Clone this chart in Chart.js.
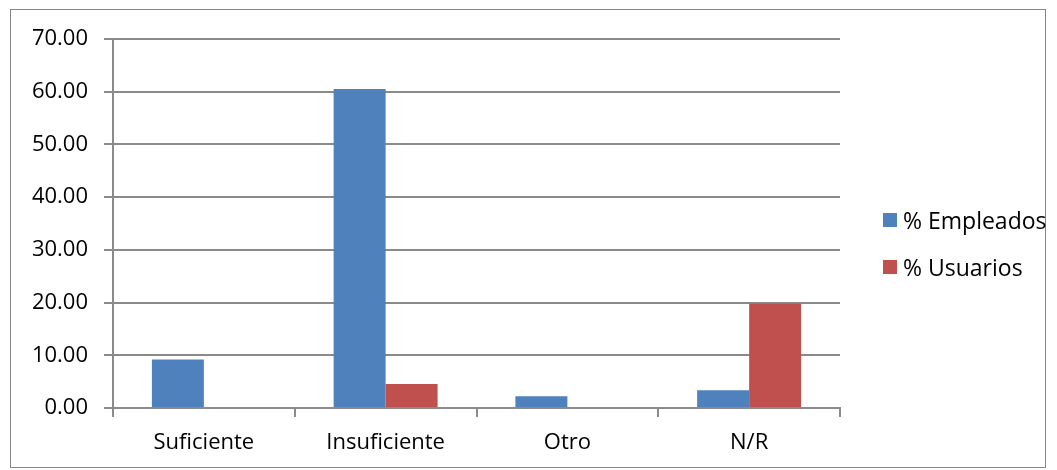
<!DOCTYPE html>
<html>
<head>
<meta charset="utf-8">
<script src="https://cdn.jsdelivr.net/npm/chart.js@4"></script>
<style>
  body { margin: 0; background: #fff; }
  #wrap { position: relative; width: 1057px; height: 470px; }
  #frame { position: absolute; left: 10px; top: 9px; width: 1036px; height: 459px; border: 1px solid #868686; box-sizing: border-box; }
  #legend { position: absolute; left: 883px; top: 205px; font-family: "Open Sans", sans-serif; font-size: 23px; color: #000; }
  #legend .item { display: flex; align-items: center; height: 30px; margin-bottom: 17px; }
  #legend .box { width: 14px; height: 14px; margin-right: 6px; }
</style>
</head>
<body>
<div id="wrap">
  <canvas id="chart" width="1057" height="470"></canvas>
  <div id="frame"></div>
  <div id="legend"></div>
</div>
<script>
// --- DATA ---
const categories = ['Suficiente', 'Insuficiente', 'Otro', 'N/R'];
const empleados = [9.18, 60.5, 2.22, 3.35];
const usuarios = [0, 4.56, 0, 19.8];
const seriesNames = ['% Empleados', '% Usuarios'];
const seriesColors = ['#4F81BD', '#C0504D'];

const gridColor = '#8a8a8a';
const font = { family: '"Open Sans", sans-serif', size: 22 };

// Legend built from the series names
const legendEl = document.getElementById('legend');
seriesNames.forEach((name, i) => {
  const item = document.createElement('div');
  item.className = 'item';
  item.innerHTML = `<span class="box" style="background:${seriesColors[i]}"></span><span>${name}</span>`;
  legendEl.appendChild(item);
});

new Chart(document.getElementById('chart'), {
  type: 'bar',
  data: {
    labels: categories,
    datasets: [
      { label: seriesNames[0], data: empleados, backgroundColor: seriesColors[0] },
      { label: seriesNames[1], data: usuarios, backgroundColor: seriesColors[1] }
    ]
  },
  options: {
    responsive: false,
    animation: false,
    layout: { padding: { top: 39, right: 217, left: 0, bottom: 0 } },
    datasets: { bar: { barPercentage: 1, categoryPercentage: 0.572 } },
    plugins: { legend: { display: false }, tooltip: { enabled: false } },
    scales: {
      x: {
        afterFit: s => { s.height = 62; },
        grid: { offset: true, drawOnChartArea: false, drawTicks: true, tickLength: 9, color: gridColor, lineWidth: 2 },
        border: { color: gridColor, width: 2 },
        ticks: { color: '#000', font: font, padding: 13 }
      },
      y: {
        min: 0,
        max: 70,
        afterFit: s => { s.width = 113; },
        grid: { color: gridColor, tickLength: 9, lineWidth: 2 },
        border: { color: gridColor, width: 2 },
        ticks: { stepSize: 10, color: '#000', font: font, padding: 16, callback: v => v.toFixed(2) }
      }
    }
  }
});
</script>
</body>
</html>
